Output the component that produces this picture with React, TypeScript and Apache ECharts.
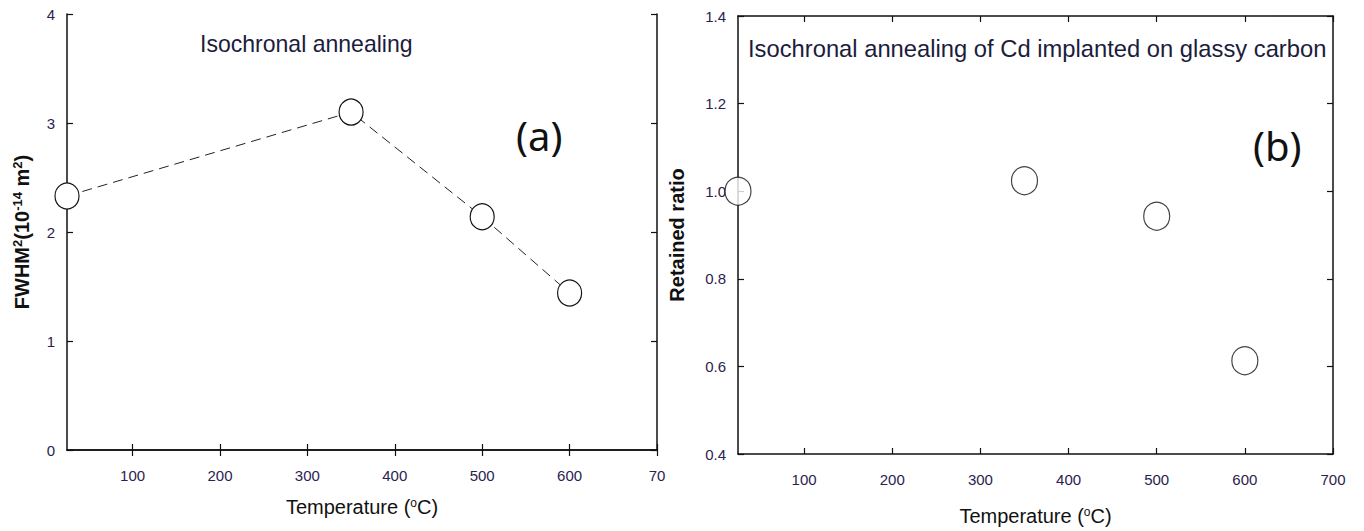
import React, { useEffect, useRef } from "react";
import * as echarts from "echarts";

const leftTemps = [25, 350, 500, 600];
const leftFwhm = [2.33, 3.1, 2.14, 1.44];
const rightTemps = [25, 350, 500, 600];
const rightRatio = [1.0, 1.024, 0.943, 0.613];
const xTickValues = [100, 200, 300, 400, 500, 600, 700];
const leftXTickLabels = ["100", "200", "300", "400", "500", "600", "70"];
const rightXTickLabels = ["100", "200", "300", "400", "500", "600", "700"];
const leftTitle = "Isochronal annealing";
const rightTitle = "Isochronal annealing of Cd implanted on glassy carbon";

const FONT = "'Liberation Sans Narrow', 'Liberation Sans', Arial, sans-serif";
const LABEL_COLOR = "#2b2250";
const AXIS_COLOR = "#111";
const TITLE_COLOR = "#1c1c3c";

export default function App() {
  const ref = useRef<HTMLDivElement>(null);
  useEffect(() => {
    if (!ref.current) return;
    const chart = echarts.init(ref.current, null, { renderer: "svg" });
    const axisLine = { show: true, lineStyle: { color: AXIS_COLOR, width: 1.5 } };
    const tick = (vals?: number[]) => ({
      show: true,
      inside: true,
      length: 6,
      lineStyle: { color: AXIS_COLOR, width: 1.2 },
      ...(vals ? { customValues: vals } : {}),
    });
    const labelStyle = { color: LABEL_COLOR, fontFamily: FONT, fontSize: 15 };
    const xName = (gap: number) => ({
      name: "Temperature ({s|o}C)",
      nameLocation: "middle" as const,
      nameGap: gap,
      nameTextStyle: {
        fontFamily: FONT,
        fontSize: 20,
        color: "#111",
        rich: { s: { fontSize: 12, verticalAlign: "top", fontFamily: FONT, color: "#111", padding: [0, 0, 8, 0] } },
      },
    });
    const option: any = {
      animation: false,
      backgroundColor: "#fff",
      grid: [
        { left: 67, right: 707, top: 14, bottom: 81, containLabel: false },
        { left: 738, right: 31, top: 16, bottom: 75, containLabel: false },
      ],
      xAxis: [
        {
          type: "value", gridIndex: 0, min: 25, max: 700, position: "bottom",
          axisLine, axisTick: tick(xTickValues), splitLine: { show: false },
          axisLabel: {
            ...labelStyle, margin: 18, customValues: xTickValues,
            formatter: (v: number) => leftXTickLabels[xTickValues.indexOf(v)] ?? "",
          },
          ...xName(47),
        },
        {
          type: "value", gridIndex: 0, min: 25, max: 700, position: "top",
          axisLine, axisTick: tick(xTickValues), splitLine: { show: false }, axisLabel: { show: false },
        },
        {
          type: "value", gridIndex: 1, min: 25, max: 700, position: "bottom",
          axisLine, axisTick: tick(xTickValues), splitLine: { show: false },
          axisLabel: {
            ...labelStyle, margin: 18, customValues: xTickValues,
            formatter: (v: number) => rightXTickLabels[xTickValues.indexOf(v)] ?? "",
          },
          ...xName(52),
        },
        {
          type: "value", gridIndex: 1, min: 25, max: 700, position: "top",
          axisLine, axisTick: tick(xTickValues), splitLine: { show: false }, axisLabel: { show: false },
        },
      ],
      yAxis: [
        {
          type: "value", gridIndex: 0, min: 0, max: 4, interval: 1, position: "left",
          axisLine, axisTick: tick(), splitLine: { show: false },
          axisLabel: { ...labelStyle, margin: 12 },
          name: "FWHM{s|2}(10{s|-14} m{s|2})",
          nameLocation: "middle", nameGap: 34, nameRotate: 90,
          nameTextStyle: {
            fontFamily: FONT, fontSize: 20, fontWeight: "bold", color: "#111",
            rich: { s: { fontSize: 13, fontWeight: "bold", verticalAlign: "top", fontFamily: FONT, color: "#111", padding: [0, 0, 9, 0] } },
          },
        },
        {
          type: "value", gridIndex: 0, min: 0, max: 4, interval: 1, position: "right",
          axisLine, axisTick: tick(), splitLine: { show: false }, axisLabel: { show: false },
        },
        {
          type: "value", gridIndex: 1, min: 0.4, max: 1.4, interval: 0.2, position: "left",
          axisLine, axisTick: tick(), splitLine: { show: false },
          axisLabel: { ...labelStyle, margin: 12, formatter: (v: number) => v.toFixed(1) },
          name: "Retained ratio",
          nameLocation: "middle", nameGap: 51, nameRotate: 90,
          nameTextStyle: { fontFamily: FONT, fontSize: 20, fontWeight: "bold", color: "#111" },
        },
        {
          type: "value", gridIndex: 1, min: 0.4, max: 1.4, interval: 0.2, position: "right",
          axisLine, axisTick: tick(), splitLine: { show: false }, axisLabel: { show: false },
        },
      ],
      series: [
        {
          type: "line", xAxisIndex: 0, yAxisIndex: 0,
          data: leftTemps.map((t, i) => [t, leftFwhm[i]]),
          symbol: "circle", symbolSize: [24, 26], showSymbol: true,
          lineStyle: { color: "#222", width: 1, type: [10, 6] },
          itemStyle: { color: "#fff", borderColor: "#111", borderWidth: 1.2 },
          z: 3,
        },
        {
          type: "scatter", xAxisIndex: 2, yAxisIndex: 2,
          data: rightTemps.map((t, i) => [t, rightRatio[i]]),
          symbol: "circle", symbolSize: [26, 28],
          itemStyle: { color: "#fff", borderColor: "#111", borderWidth: 1.2 },
          z: 3,
        },
      ],
      graphic: [
        {
          type: "text", x: 200, y: 44, scaleX: 0.96,
          style: { text: leftTitle, font: `24px ${FONT}`, fill: TITLE_COLOR, textVerticalAlign: "middle" },
        },
        {
          type: "text", x: 748, y: 48, scaleX: 0.99,
          style: { text: rightTitle, font: `24px ${FONT}`, fill: TITLE_COLOR, textVerticalAlign: "middle" },
        },
        { type: "text", left: 516, top: 115, style: { text: "(a)", font: `40px 'Noto Sans', sans-serif`, fill: "#111" } },
        { type: "text", left: 1253, top: 125, style: { text: "(b)", font: `40px 'Noto Sans', sans-serif`, fill: "#111" } },
      ],
    };
    chart.setOption(option);
    return () => chart.dispose();
  }, []);
  return (
    <div
      ref={ref}
      style={{ position: "fixed", left: 0, top: 0, width: 1364, height: 531, background: "#fff" }}
    />
  );
}
